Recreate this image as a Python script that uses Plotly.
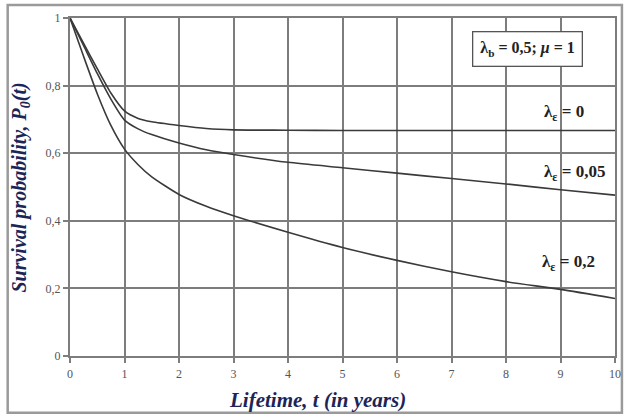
import plotly.graph_objects as go

# Data
t_vals = [0, 0.25, 0.5, 0.75, 1, 1.25, 1.5, 2, 2.5, 3, 4, 5, 6, 7, 8, 9, 10]
p_eps0 = [1, 0.925, 0.85, 0.778, 0.725, 0.703, 0.693, 0.682, 0.673, 0.669, 0.668, 0.667, 0.667, 0.667, 0.667, 0.667, 0.667]
p_eps005 = [1, 0.918, 0.836, 0.76, 0.698, 0.672, 0.655, 0.630, 0.610, 0.596, 0.573, 0.557, 0.541, 0.525, 0.509, 0.492, 0.476]
p_eps02 = [1, 0.886, 0.776, 0.682, 0.612, 0.566, 0.530, 0.478, 0.443, 0.415, 0.366, 0.321, 0.283, 0.249, 0.220, 0.197, 0.170]

x_ticks = [0, 1, 2, 3, 4, 5, 6, 7, 8, 9, 10]
x_ticklabels = ["0", "1", "2", "3", "4", "5", "6", "7", "8", "9", "10"]
y_ticks = [0, 0.2, 0.4, 0.6, 0.8, 1]
y_ticklabels = ["0", "0,2", "0,4", "0,6", "0,8", "1"]

series = [("λε = 0", p_eps0), ("λε = 0,05", p_eps005), ("λε = 0,2", p_eps02)]

FONT = "Liberation Serif"
GRID = "#7d7d7d"
LINE = "#3a3a3a"
TITLE_COLOR = "#1c2458"

fig = go.Figure()
for name, vals in series:
    fig.add_trace(go.Scatter(
        x=t_vals, y=vals, mode="lines", name=name,
        line=dict(color=LINE, width=1.6, shape="spline", smoothing=0.6),
        showlegend=False, hoverinfo="skip",
    ))

LBL = dict(family=FONT, size=17, color="#222222")
TTL = dict(family=FONT, size=21, color=TITLE_COLOR)
annotations = [
    dict(x=9.07, y=0.718, xref="x", yref="y",
         text="<b>λ<sub>ε</sub> = 0</b>", showarrow=False, font=LBL, xanchor="center"),
    dict(x=9.25, y=0.541, xref="x", yref="y",
         text="<b>λ<sub>ε</sub> = 0,05</b>", showarrow=False, font=LBL, xanchor="center"),
    dict(x=9.15, y=0.276, xref="x", yref="y",
         text="<b>λ<sub>ε</sub> = 0,2</b>", showarrow=False, font=LBL, xanchor="center"),
    dict(x=8.4, y=0.909, xref="x", yref="y",
         text="<b>λ<sub>b</sub> = 0,5; <i>μ</i> = 1</b>", showarrow=False,
         font=dict(family=FONT, size=16, color="#222222"), xanchor="center",
         bordercolor="#555555", borderwidth=1.3, borderpad=7, bgcolor="white"),
    dict(x=(320 - 70) / 551, y=(356 - 400) / 340, xref="paper", yref="paper",
         text="<b><i>Lifetime, t (in years)</i></b>", showarrow=False, font=TTL,
         xanchor="center", yanchor="middle"),
    dict(x=(20 - 70) / 551, y=(356 - 187) / 340, xref="paper", yref="paper",
         text="<b><i>Survival probability, P<sub>0</sub>(t)</i></b>", showarrow=False,
         font=dict(family=FONT, size=20, color=TITLE_COLOR), textangle=-90,
         xanchor="center", yanchor="middle"),
]

fig.update_layout(
    width=632, height=417,
    margin=dict(l=70, r=11, t=16, b=61),
    paper_bgcolor="white", plot_bgcolor="white",
    annotations=annotations,
    shapes=[dict(type="rect", xref="paper", yref="paper",
                 x0=-63 / 551, x1=1 + 7 / 551, y0=-57 / 340, y1=1 + 13 / 340,
                 line=dict(color="#9a9a9a", width=2.5), layer="below")],
    xaxis=dict(
        range=[0, 10], tickvals=x_ticks, ticktext=x_ticklabels,
        showgrid=True, gridcolor=GRID, gridwidth=2.2,
        zeroline=False, showline=True, linecolor=GRID, linewidth=2.2, mirror=True,
        ticks="outside", ticklen=5, tickcolor=GRID, tickwidth=2,
        tickfont=dict(family=FONT, size=12, color="#555555"),
    ),
    yaxis=dict(
        range=[0, 1], tickvals=y_ticks, ticktext=y_ticklabels,
        showgrid=True, gridcolor=GRID, gridwidth=2.2,
        zeroline=False, showline=True, linecolor=GRID, linewidth=2.2, mirror=True,
        ticks="outside", ticklen=5, tickcolor=GRID, tickwidth=2,
        tickfont=dict(family=FONT, size=12, color="#555555"),
    ),
)

fig.write_html("out.html")
